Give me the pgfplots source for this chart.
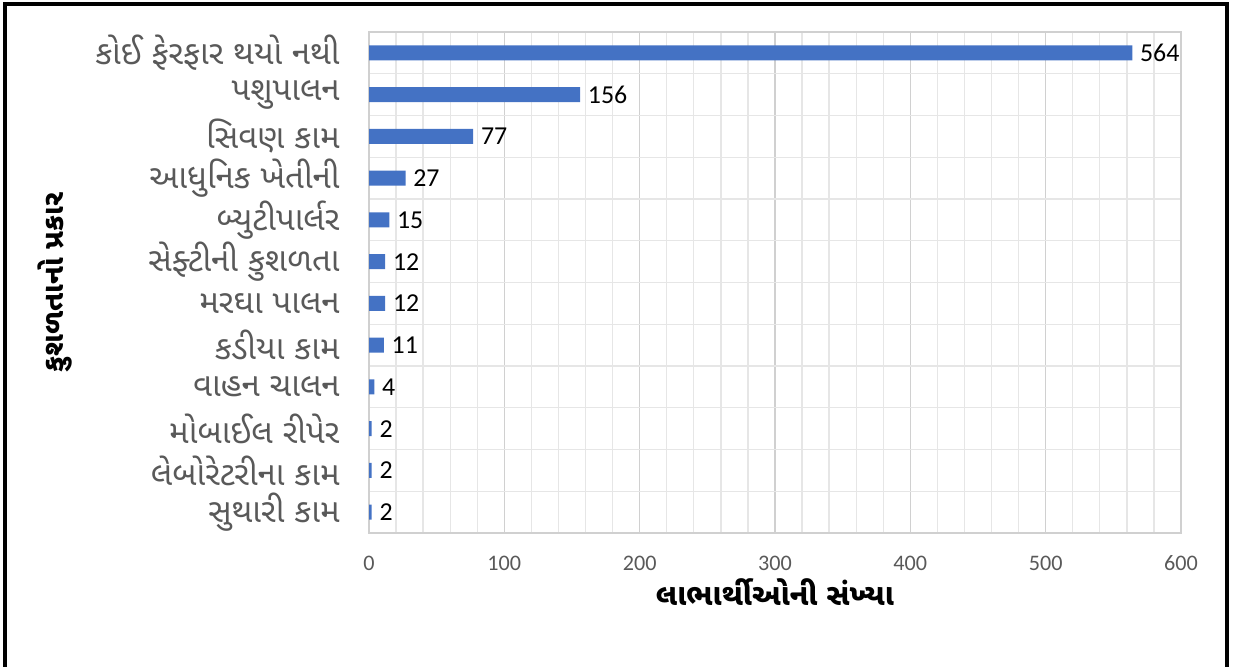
\documentclass[border=0pt]{standalone}
\usepackage{pgfplots}
\pgfplotsset{compat=1.18}
\usepackage{fontspec}
\setmainfont{Carlito}
\newfontfamily\guj[Script=Gujarati]{Noto Sans Gujarati UI}
\definecolor{barblue}{HTML}{4472C4}
\definecolor{labgray}{HTML}{595959}
\definecolor{majgrid}{HTML}{D0D0D0}
\definecolor{mingrid}{HTML}{E6E6E6}
\begin{document}
\begin{tikzpicture}
\useasboundingbox (0pt,0pt) rectangle (745.8pt,399.6pt);
\begin{scope}
\clip (0pt,0pt) rectangle (745.8pt,399.6pt);
\draw[line width=2.4pt] (2.7pt,-20pt) -- (2.7pt,397.4pt) -- (736.2pt,397.4pt) -- (736.2pt,-20pt);
\end{scope}
\begin{axis}[
  at={(221.4pt,79.8pt)}, anchor=south west, scale only axis,
  width=487.2pt, height=300.6pt,
  xbar, bar width=9pt,
  xmin=0, xmax=600, ymin=-0.5, ymax=11.5, y dir=reverse,
  ytick={0,...,11},
  yticklabels={કોઈ ફેરફાર થયો નથી, પશુપાલન, સિવણ કામ, આધુનિક ખેતીની, બ્યુટીપાર્લર, સેફ્ટીની કુશળતા, મરઘા પાલન, કડીયા કામ, વાહન ચાલન, મોબાઈલ રીપેર, લેબોરેટરીના કામ, સુથારી કામ},
  yticklabel style={font=\guj\fontsize{19.8}{22}\selectfont, text=labgray, anchor=east, inner sep=0pt, xshift=-17.4pt},
  xtick={0,100,...,600}, minor x tick num=4,
  minor ytick={-0.5,0.5,...,11.5},
  xmajorgrids, xminorgrids, yminorgrids, ymajorgrids=false,
  major grid style={draw=majgrid, line width=0.9pt},
  minor grid style={draw=mingrid, line width=0.8pt},
  axis line style={draw=majgrid, line width=0.9pt},
  major tick length=0pt, minor tick length=0pt,
  xticklabel style={font=\fontsize{13.3}{15}\selectfont, text=labgray, anchor=north, inner sep=0pt, yshift=-13.4pt},
  /pgf/number format/assume math mode=true,
  nodes near coords,
  nodes near coords style={font=\fontsize{15.5}{17}\selectfont, text=black, anchor=west, inner sep=0pt, xshift=4.5pt},
  every axis x label/.style={at={(axis description cs:0.5,0)}, anchor=center, yshift=-35.4pt, font=\guj\bfseries\fontsize{18}{20}\selectfont},
  every axis y label/.style={at={(axis description cs:-0.3867,0.5)}, anchor=center, rotate=90, font=\guj\bfseries\fontsize{17.2}{19}\selectfont},
  xlabel={લાભાર્થીઓની સંખ્યા},
  ylabel={કુશળતાનો પ્રકાર},
]
\addplot[fill=barblue, draw=none] coordinates {
(564,0) (156,1) (77,2) (27,3) (15,4) (12,5) (12,6) (11,7) (4,8) (2,9) (2,10) (2,11)};
\end{axis}
\end{tikzpicture}
\end{document}
